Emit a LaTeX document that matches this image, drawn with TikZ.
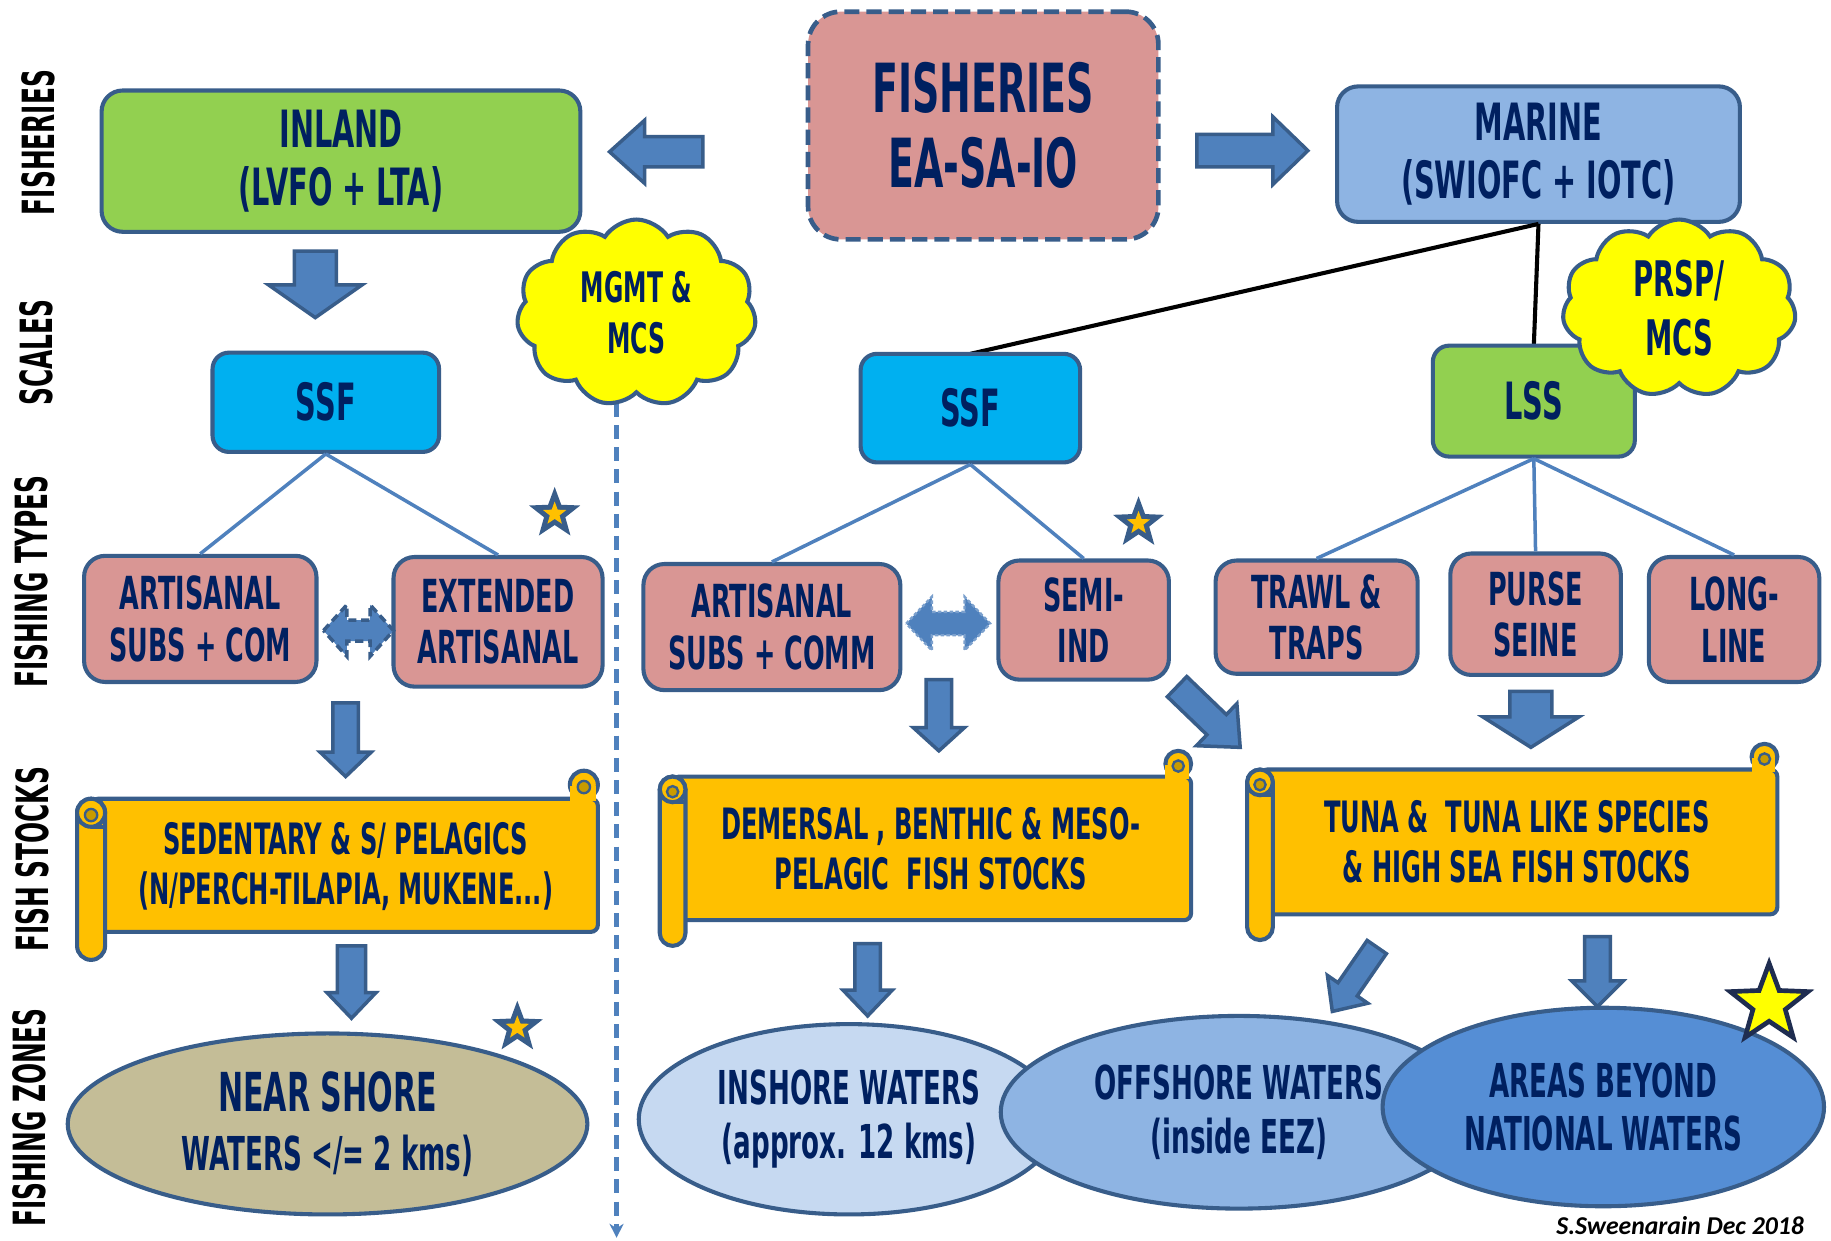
\documentclass[tikz,border=0pt]{standalone}
\usepackage{fontspec}
\usetikzlibrary{shapes.geometric,shapes.symbols,arrows.meta}
\newfontfamily\agency[FakeStretch=0.56]{DejaVu Sans}
\newfontfamily\creditfont{Carlito}
\newcommand\fz[2]{\fontsize{#1}{#2}\selectfont}
\definecolor{navy}{HTML}{002060}
\definecolor{bdr}{HTML}{385D8A}
\definecolor{arrfill}{HTML}{4F81BD}
\definecolor{pinkc}{HTML}{D99694}
\definecolor{greenc}{HTML}{92D050}
\definecolor{cyanc}{HTML}{00B0F0}
\definecolor{marinec}{HTML}{8EB4E3}
\definecolor{goldc}{HTML}{FFC000}
\definecolor{dgold}{HTML}{C89B00}
\definecolor{tanc}{HTML}{C4BD97}
\definecolor{inshc}{HTML}{C6D9F1}
\definecolor{offc}{HTML}{8EB4E3}
\definecolor{areac}{HTML}{558ED5}
\definecolor{yelc}{HTML}{FFFF00}
\definecolor{starbd}{HTML}{1F2D50}
\tikzset{
  box/.style={draw=bdr, line width=3.5pt, rounded corners=18pt, text=navy, align=center, inner sep=0pt},
  ell/.style={ellipse, draw=bdr, line width=3.5pt, text=navy, align=center, inner sep=0pt},
  cloudy/.style={cloud, cloud puffs=11, cloud puff arc=115, draw=bdr, fill=yelc, line width=3.5pt, text=navy, align=center, inner sep=0pt},
  conn/.style={draw=arrfill, line width=3pt},
  blk/.style={draw=black, line width=3.5pt},
  barr/.style={fill=arrfill, draw=bdr, line width=3pt, line join=miter},
  scr/.style={fill=goldc, draw=bdr, line width=3.5pt},
  sidelab/.style={rotate=90, font=\agency\bfseries\fz{38}{40}, text=black, inner sep=0pt},
  tnode/.style={text=navy, align=center, inner sep=0pt}
}
% block arrow: x, y (tail centre), angle, length, shaft half width, head half width, head length
\newcommand\barrow[7]{%
  \begin{scope}[shift={(#1,#2)},rotate=#3]
  \filldraw[barr] (0,-#5) -- (#4-#7,-#5) -- (#4-#7,-#6) -- (#4,0) -- (#4-#7,#6) -- (#4-#7,#5) -- (0,#5) -- cycle;
  \end{scope}}
% double arrow: x1, x2, yc, shaft hw, head hw, head length, style
\newcommand\dbarrow[7]{%
  \draw[#7] (#1,#3) -- (#1+#6,#3-#5) -- (#1+#6,#3-#4) -- (#2-#6,#3-#4) -- (#2-#6,#3-#5) -- (#2,#3)
   -- (#2-#6,#3+#5) -- (#2-#6,#3+#4) -- (#1+#6,#3+#4) -- (#1+#6,#3+#5) -- cycle;}
% scroll: xl, xr, yt, yb, d
\newcommand\scroll[5]{%
  \filldraw[scr, rounded corners=6pt] (#1+#5/2,#3+#5) rectangle (#2,#4-#5);
  \filldraw[scr] (#2-#5/2,#3+#5/2) circle[radius=#5*0.5pt];
  \fill[goldc] (#2-#5,#3+#5/2+1) rectangle (#2-2,#3+#5+2);
  \filldraw[fill=dgold, draw=bdr, line width=2pt] (#2-#5/2,#3+#5/2+2) circle[radius=#5*0.22pt];
  \filldraw[scr, rounded corners=#5*0.5pt] (#1,#3+#5) rectangle (#1+#5,#4);
  \filldraw[scr] (#1+#5/2,#3+#5+#5/2) circle[radius=#5*0.5pt];
  \filldraw[fill=dgold, draw=bdr, line width=2pt] (#1+#5/2,#3+#5+#5/2+2) circle[radius=#5*0.22pt];
  \draw[bdr, line width=3pt] (#1+#5/2,#3+#5*2) -- (#1+#5,#3+#5*2);}
\begin{document}
\begin{tikzpicture}[x=1pt,y=-1pt]
\useasboundingbox (0,0) rectangle (1568,1062);
\fill[white] (0,0) rectangle (1568,1062);

% side labels
\node[sidelab] (lab1) at (33,122) {FISHERIES};
\node[sidelab] (lab2) at (31,302) {SCALES};
\node[sidelab] (lab3) at (27,498) {FISHING TYPES};
\node[sidelab] (lab4) at (28,736) {FISH STOCKS};
\node[sidelab] (lab5) at (25,957) {FISHING ZONES};

% dashed divider
\coordinate (dtop) at (528,345);
\coordinate (dbot) at (528,1060);
\draw[arrfill, line width=4pt, dash pattern=on 12pt off 7pt, -{Stealth[length=12pt,width=12pt]}] (dtop) -- (dbot);

% top row
\node[box, fill=greenc, minimum width=410pt, minimum height=121pt, font=\agency\bfseries\fz{44}{50}] (inland) at (292,138) {INLAND\\(LVFO + LTA)};
\node[box, fill=pinkc, draw=bdr, dash pattern=on 13pt off 6pt, line width=4pt, rounded corners=28pt, minimum width=300pt, minimum height=195pt, font=\agency\bfseries\fz{58}{64}] (fish) at (842,107.5) {FISHERIES\\EA-SA-IO};
\node[box, fill=marinec, minimum width=345pt, minimum height=116pt, font=\agency\bfseries\fz{44}{50}] (marine) at (1317.5,132) {MARINE\\(SWIOFC + IOTC)};

\barrow{602}{130}{180}{80}{13}{27}{30}
\barrow{1025}{129}{0}{95}{14}{29}{30}
\barrow{270}{215}{-90}{57}{18}{40}{28}

% black links
\draw[blk] (marine.south) -- (831,303);
\draw[blk] (marine.south) -- (1313.5,296);

% scales
\node[box, fill=cyanc, minimum width=194pt, minimum height=85pt, rounded corners=14pt, font=\agency\bfseries\fz{44}{50}] (ssfL) at (279,344.5) {SSF};
\node[box, fill=cyanc, minimum width=188pt, minimum height=93pt, rounded corners=14pt, font=\agency\bfseries\fz{44}{50}] (ssfM) at (831,349.5) {SSF};
\node[box, fill=greenc, minimum width=173pt, minimum height=95pt, rounded corners=14pt, font=\agency\bfseries\fz{44}{50}] (lss) at (1313.5,343.5) {LSS};

% fishing types
\node[box, fill=pinkc, minimum width=199pt, minimum height=108pt, font=\agency\bfseries\fz{39}{44}] (art1) at (171.5,530) {ARTISANAL\\SUBS + COM};
\node[box, fill=pinkc, minimum width=179pt, minimum height=111pt, font=\agency\bfseries\fz{39}{44}] (ext) at (426.5,532.5) {EXTENDED\\ARTISANAL};
\node[box, fill=pinkc, minimum width=220pt, minimum height=108pt, font=\agency\bfseries\fz{39}{44}] (art2) at (661,537) {ARTISANAL\\SUBS + COMM};
\node[box, fill=pinkc, minimum width=146pt, minimum height=102pt, font=\agency\bfseries\fz{39}{44}] (semi) at (928,531) {SEMI-\\IND};
\node[box, fill=pinkc, minimum width=173pt, minimum height=97pt, font=\agency\bfseries\fz{39}{44}] (trawl) at (1127.5,528.5) {TRAWL \&\\TRAPS};
\node[box, fill=pinkc, minimum width=146pt, minimum height=104pt, font=\agency\bfseries\fz{39}{44}] (purse) at (1315,526) {PURSE\\SEINE};
\node[box, fill=pinkc, minimum width=146pt, minimum height=107pt, font=\agency\bfseries\fz{39}{44}] (long) at (1485,530.5) {LONG-\\LINE};

\draw[conn] (ssfL.south) -- (art1.north);
\draw[conn] (ssfL.south) -- (ext.north);
\draw[conn] (ssfM.south) -- (art2.north);
\draw[conn] (ssfM.south) -- (semi.north);
\draw[conn] (lss.south) -- (trawl.north);
\draw[conn] (lss.south) -- (purse.north);
\draw[conn] (lss.south) -- (long.north);

\dbarrow{277}{337}{540}{9}{22}{20}{fill=arrfill, draw=bdr, line width=3pt, dash pattern=on 7pt off 4pt}
\dbarrow{776}{848}{534}{10}{23}{22}{fill=arrfill, draw=arrfill!75!white, line width=2pt, dash pattern=on 3pt off 2pt}

% clouds
\node[cloudy, minimum width=205pt, minimum height=160pt, font=\agency\bfseries\fz{36}{44}] (mgmt) at (545,268) {MGMT \&\\MCS};
\node[cloudy, minimum width=200pt, minimum height=152pt, font=\agency\bfseries\fz{42}{50}] (prsp) at (1438,264) {PRSP/\\MCS};

% arrows types -> stocks
\barrow{296}{602}{-90}{63}{11}{22}{21}
\barrow{804}{582}{-90}{61}{11}{22}{20}
\barrow{1008}{588}{-43.9}{75}{12}{25}{28}
\barrow{1311}{592}{-90}{48}{18}{41}{26}

% scrolls
\scroll{66}{512}{660}{822}{24}
\node[tnode, font=\agency\bfseries\fz{37}{43}] (stk1) at (296,742) {SEDENTARY \& S/ PELAGICS\\(N/PERCH-TILAPIA, MUKENE...)};
\scroll{565}{1020}{643}{810}{22}
\node[tnode, font=\agency\bfseries\fz{37}{43}] (stk2) at (797,727) {DEMERSAL , BENTHIC \& MESO-\\PELAGIC\ \ FISH STOCKS};
\scroll{1068}{1522}{637}{805}{22}
\node[tnode, font=\agency\bfseries\fz{37}{43}] (stk3) at (1299,721) {TUNA \&\ \ TUNA LIKE SPECIES\\\& HIGH SEA FISH STOCKS};

% arrows stocks -> zones
\barrow{301}{810}{-90}{62}{12}{21}{22}
\barrow{743}{808}{-90}{62}{11}{21}{22}
\barrow{1179}{811}{-124.6}{67}{10}{21}{23}
\barrow{1368}{802}{-90}{60}{11}{22}{22}

% zones
\node[ell, fill=tanc, minimum width=445pt, minimum height=155pt, font=\agency\bfseries\fz{46}{50}] (near) at (280.5,962.5) {NEAR SHORE\\\fz{40}{48}WATERS </= 2 kms)};
\node[ell, fill=inshc, minimum width=360pt, minimum height=163pt, font=\agency\bfseries\fz{40}{46}] (insh) at (727,958.5) {INSHORE WATERS\\(approx. 12 kms)};
\node[ell, fill=offc, minimum width=408pt, minimum height=165pt, font=\agency\bfseries\fz{40}{46}] (offs) at (1061,952.5) {OFFSHORE WATERS\\(inside EEZ)};
\node[ell, fill=areac, minimum width=378pt, minimum height=170pt, font=\agency\bfseries\fz{40}{46}] (areas) at (1373,948) {AREAS BEYOND\\NATIONAL WATERS};

% stars
\node[star, star points=5, star point ratio=2.4, fill=bdr, minimum size=46pt, inner sep=0pt] (st1) at (475,440) {};
\node[star, star points=5, star point ratio=2.4, fill=goldc, minimum size=21pt, inner sep=0pt] (st1i) at (st1) {};
\node[star, star points=5, star point ratio=2.4, fill=bdr, minimum size=46pt, inner sep=0pt] (st2) at (975,448) {};
\node[star, star points=5, star point ratio=2.4, fill=goldc, minimum size=21pt, inner sep=0pt] (st2i) at (st2) {};
\node[star, star points=5, star point ratio=2.4, fill=bdr, minimum size=46pt, inner sep=0pt] (st3) at (443,880) {};
\node[star, star points=5, star point ratio=2.4, fill=goldc, minimum size=21pt, inner sep=0pt] (st3i) at (st3) {};
\node[star, star points=5, star point ratio=2.4, fill=yelc, draw=starbd, line width=4pt, minimum size=70pt, inner sep=0pt] (st4) at (1515,860) {};

% credit
\node[anchor=base east, font=\creditfont\bfseries\itshape\fz{22}{24}, text=black, inner sep=0pt] (credit) at (1545,1057) {S.Sweenarain Dec 2018};
\end{tikzpicture}
\end{document}
